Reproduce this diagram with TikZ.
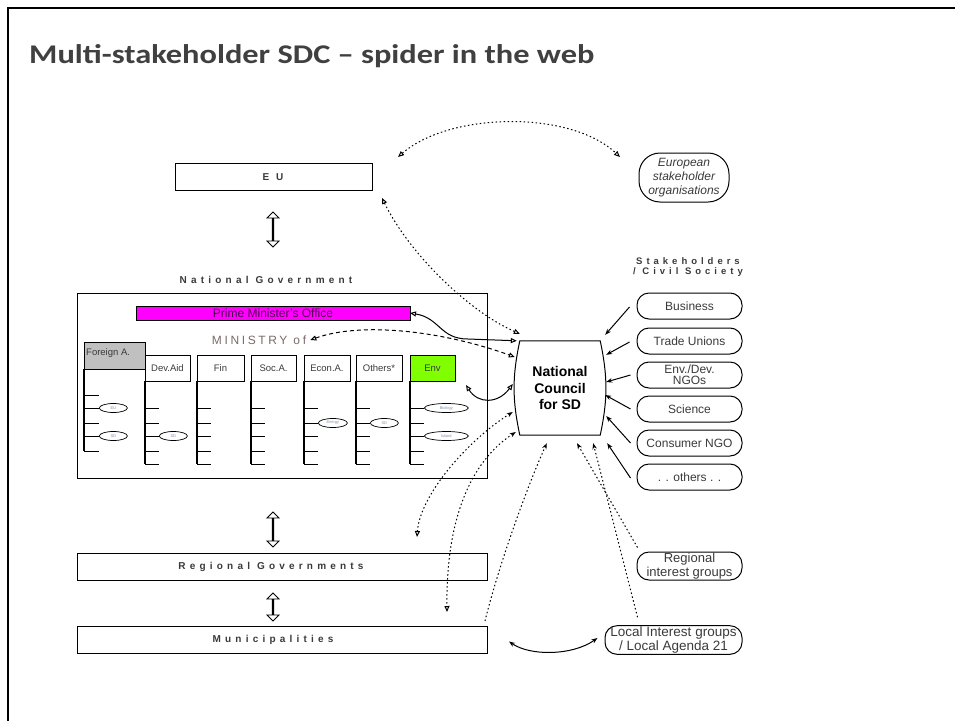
\documentclass[tikz,border=0pt]{standalone}
\usepackage{fontspec}
\setmainfont{Liberation Sans}
\newfontfamily\titlefont{Carlito}[FakeStretch=1.2]
\newfontfamily\spacedfont[LetterSpace=42]{Liberation Sans}
\newfontfamily\minfont[LetterSpace=22]{Liberation Sans}
\usetikzlibrary{arrows.meta,shapes.geometric,shapes.arrows,calc}
\definecolor{titlegray}{HTML}{404040}
\definecolor{pmomag}{HTML}{FF00FF}
\definecolor{envgreen}{HTML}{80FF00}
\definecolor{fagray}{HTML}{C0C0C0}
\definecolor{txtgray}{HTML}{3A3A3A}
\definecolor{pmotext}{HTML}{500050}
\definecolor{mintext}{HTML}{7A6A68}
\definecolor{tinytext}{HTML}{8090B0}
\tikzset{
  op/.tip={Triangle[open,length=6pt,width=5pt]},
  dk/.tip={Stealth[length=6pt,width=4.5pt]},
  plainbox/.style={draw, line width=1pt, inner sep=0pt, outer sep=0pt},
  spacedlbl/.style={font=\fontsize{10}{11}\selectfont\spacedfont\bfseries, inner sep=0pt, text=txtgray},
  colbox/.style={plainbox, minimum height=26pt, font=\fontsize{9.5}{10}\selectfont, text=txtgray},
  tinyell/.style={ellipse, draw, line width=0.7pt, minimum height=9pt, inner sep=0pt, anchor=west, font=\fontsize{4}{4}\selectfont, text=tinytext},
  pill/.style={draw, line width=1pt, rounded corners=12pt, minimum width=105pt, minimum height=26pt, inner sep=1pt, font=\fontsize{12}{12}\selectfont, text=txtgray, align=center},
  dotline/.style={line width=1pt, dash pattern=on 1.5pt off 2.5pt},
  dashline/.style={line width=1pt, dash pattern=on 4pt off 3pt},
  solidline/.style={line width=1pt},
  dblarrow/.style={double arrow, draw, line width=0.8pt, rotate=90, minimum width=12pt, double arrow head extend=3.5pt, inner sep=0pt},
  orgline/.style={line width=1.4pt},
  tick/.style={line width=1pt}
}
\begin{document}
\begin{tikzpicture}[x=1pt,y=-1pt]
\useasboundingbox (0,0) rectangle (955,720);
% frame
\draw[line width=2.5pt] (8,725) -- (8,8) -- (960,8);
% title
\node[anchor=base west, font=\fontsize{27}{30}\selectfont\titlefont\bfseries, text=titlegray, inner sep=0pt] (title) at (29,63) {Multi-stakeholder SDC – spider in the web};

% EU
\node[plainbox, minimum width=197pt, minimum height=27pt] (eu) at (273.5,176.5) {};
\node[spacedlbl] (eulbl) at (273,177) {E U};
\node[dblarrow, minimum height=35pt] (da1) at (273,229.5) {};

% National government
\node[spacedlbl] (nglbl) at (266,280) {National Government};
\node[plainbox, minimum width=410pt, minimum height=185pt] (gov) at (282,385.5) {};
\node[plainbox, fill=pmomag, minimum width=274pt, minimum height=14pt, font=\fontsize{12}{12}\selectfont, text=pmotext] (pmo) at (273,313) {Prime Minister's Office};
\node[font=\fontsize{12}{12}\selectfont\minfont, text=mintext, inner sep=0pt] (minlbl) at (259,340) {MINISTRY of};

% columns
\node[plainbox, fill=fagray, minimum width=61pt, minimum height=27pt] (fa) at (114.5,355.5) {};
\node[anchor=north west, inner sep=0pt, font=\fontsize{9.5}{10}\selectfont, text=txtgray] (falbl) at (86,348) {Foreign A.};
\node[colbox, minimum width=45pt] (dev) at (167.5,368) {Dev.Aid};
\node[colbox, minimum width=47pt] (fin) at (220.5,368) {Fin};
\node[colbox, minimum width=45pt] (soc) at (273.5,368) {Soc.A.};
\node[colbox, minimum width=46pt] (econ) at (327,368) {Econ.A.};
\node[colbox, minimum width=46pt] (oth) at (379,368) {Others*};
\node[colbox, fill=envgreen, minimum width=45pt] (env) at (432.5,368) {Env};

% org lines
\draw[orgline] (fa.south west) -- (84,451);
\foreach \yy in {395,408,423,436,451} \draw[tick] (84,\yy) -- ++(15,0);
\foreach \cc/\xx in {dev/145,fin/197,soc/251,econ/304,oth/356,env/410}{
  \draw[orgline] (\cc.south west) -- (\xx,464);
  \foreach \yy in {408,423,436,451,464} \draw[tick] (\xx,\yy) -- ++(14,0);
}
\node[tinyell, minimum width=28pt] (e1) at (99,408) {EU};
\node[tinyell, minimum width=28pt] (e2) at (99,436) {SD};
\node[tinyell, minimum width=28pt] (e3) at (159,436) {SD};
\node[tinyell, minimum width=29pt] (e4) at (318,423) {Energy};
\node[tinyell, minimum width=28pt] (e5) at (370,423) {SD};
\node[tinyell, minimum width=44pt] (e6) at (424,408) {Biology};
\node[tinyell, minimum width=44pt] (e7) at (424,436) {Island};

% lower levels
\node[dblarrow, minimum height=35pt] (da2) at (273,529.5) {};
\node[plainbox, minimum width=410pt, minimum height=27pt] (reg) at (282,566.5) {};
\node[spacedlbl] (reglbl) at (271,566.5) {Regional Governments};
\node[dblarrow, minimum height=28pt] (da3) at (273,607) {};
\node[plainbox, minimum width=410pt, minimum height=27pt] (muni) at (282,639.5) {};
\node[spacedlbl] (munilbl) at (273,639.5) {Municipalities};

% National council
\node[minimum width=80pt, minimum height=94pt, inner sep=0pt, align=center, font=\fontsize{14}{16.5}\selectfont\bfseries] (council) at (560,388) {National\\Council\\for SD};
\draw[line width=1pt] (council.north west) -- (council.north east) to[bend left=12] (council.south east) -- (council.south west) to[bend left=12] cycle;

% European stakeholder organisations
\node[draw, line width=1pt, rounded corners=21pt, minimum width=90pt, minimum height=49pt, inner sep=0pt, align=center, font=\fontsize{12}{14}\selectfont\itshape, text=txtgray] (eso) at (684,177.5) {European\\stakeholder\\organisations};

% Stakeholders
\node[spacedlbl, align=center, font=\fontsize{9.5}{10}\selectfont\spacedfont\bfseries] (shlbl) at (688,267) {Stakeholders\\/ Civil Society};
\node[pill] (bus) at (689.5,306) {Business};
\node[pill] (tu) at (689.5,341) {Trade Unions};
\node[pill, font=\fontsize{12}{11}\selectfont] (ngo) at (689.5,375) {Env./Dev.\\NGOs};
\node[pill] (sci) at (689.5,409) {Science};
\node[pill] (con) at (689.5,443) {Consumer NGO};
\node[pill] (oths) at (689.5,477) {. . others . .};
\node[pill, minimum height=28pt, font=\fontsize{13}{13.5}\selectfont] (rig) at (689.5,566) {Regional\\interest groups};
\node[pill, minimum width=137pt, minimum height=27pt, font=\fontsize{13.5}{14}\selectfont] (lig) at (673.5,640) {Local Interest groups\\/ Local Agenda 21};

% free-end coordinates
\coordinate (arcL) at (398,157);
\coordinate (arcR) at (620,157);
\coordinate (envE) at (466,385);
\coordinate (endA) at (417,537);
\coordinate (endB) at (447,612);

% connectors
\draw[dotline, op-op] (arcL) .. controls (450,112) and (570,110) .. (arcR);
\draw[dotline, op-op] ($(eu.south east)+(10,8)$) .. controls (410,255) and (470,312) .. ($(council.north west)+(0,-7)$);
\draw[solidline, op-op] (pmo.east) .. controls (440,318) and (440,339) .. (468,339) -- ($(council.north west)+(-3,0)$);
\draw[dashline, op-op] ($(minlbl.east)+(4,0)$) .. controls (360,322) and (440,330) .. ($(council.west)+(-5,-31)$);
\draw[solidline, op-op] (envE) .. controls (478,404) and (498,404) .. ($(council.west)+(-7,-4)$);
\draw[dotline, dk-op] ($(council.west)+(-7,24)$) .. controls (468,440) and (420,495) .. (endA);
\draw[dotline, dk-op] ($(council.west)+(-4,44)$) .. controls (470,462) and (446,520) .. (endB);
\draw[dotline, -dk] ($(muni.north east)+(-2,-5)$) .. controls (500,560) and (530,480) .. ($(council.south west)+(27,8)$);
\draw[dotline, -dk] ($(rig.north west)+(1,-4)$) -- ($(council.south)+(17,8)$);
\draw[dotline, -dk] ($(lig.north)+(-36,-8)$) -- ($(council.south east)+(-7,8)$);
\draw[solidline, -dk] ($(bus.west)+(-7,1)$) -- ($(council.north east)+(5,-6)$);
\draw[solidline, -dk] ($(tu.west)+(-7,1)$) -- ($(council.north east)+(6,14)$);
\draw[solidline, -dk] ($(ngo.west)+(-6,0)$) -- ($(council.east)+(6,-6)$);
\draw[solidline, -dk] ($(sci.west)+(-6,0)$) -- ($(council.east)+(5,7)$);
\draw[solidline, -dk] ($(con.west)+(-6,0)$) -- ($(council.east)+(6,28)$);
\draw[solidline, -dk] ($(oths.west)+(-6,1)$) -- ($(council.south east)+(7,8)$);
\draw[solidline, dk-dk] ($(muni.east)+(22,2)$) .. controls (530,656) and (572,656) .. ($(lig.west)+(-7,-2)$);
\end{tikzpicture}
\end{document}
